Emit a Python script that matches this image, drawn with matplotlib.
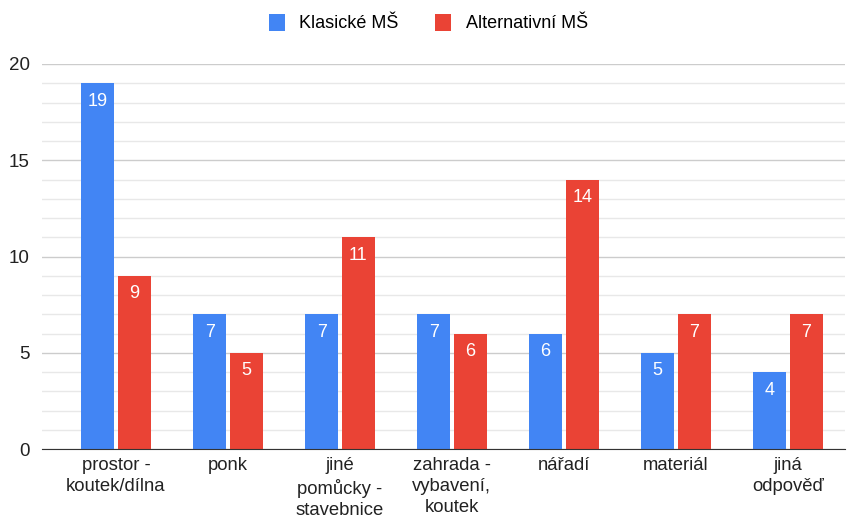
import matplotlib
matplotlib.use("Agg")
from matplotlib import pyplot as plt
from matplotlib.patches import Patch
import numpy as np

plt.rcParams['font.family'] = ['Liberation Sans', 'DejaVu Sans']

# data
kategorie = ["prostor -\nkoutek/dílna", "ponk", "jiné\npomůcky -\nstavebnice",
             "zahrada -\nvybavení,\nkoutek", "nářadí", "materiál", "jiná\nodpověď"]
klasicke = [19, 7, 7, 7, 6, 5, 4]
alternativni = [9, 5, 11, 6, 14, 7, 7]

modra = "#4285F4"
cervena = "#EA4335"

fig = plt.figure(figsize=(8.48, 5.2), dpi=100)
ax = fig.add_axes([42 / 848, 1 - 449 / 520, 803 / 848, 385 / 520])

x = np.arange(len(kategorie))
w = 0.295
b1 = ax.bar(x - 0.163, klasicke, w, color=modra, zorder=3)
b2 = ax.bar(x + 0.163, alternativni, w, color=cervena, zorder=3)

# popisky hodnot uvnitr sloupcu
for bars in (b1, b2):
    for r in bars:
        ax.annotate(str(int(r.get_height())), (r.get_x() + r.get_width() / 2, r.get_height()),
                    xytext=(0, -13), textcoords="offset points", ha="center", va="center",
                    color="white", fontsize=13, zorder=4)

ax.set_xlim(-0.66, 6.51)
ax.set_ylim(0, 20)
ax.set_yticks([0, 5, 10, 15, 20])
ax.set_yticks(np.arange(0, 21, 1), minor=True)
ax.grid(axis="y", which="major", color="#cccccc", lw=1, zorder=0)
ax.grid(axis="y", which="minor", color="#e8e8e8", lw=1, zorder=0)
ax.set_xticks(x)
ax.set_xticklabels(kategorie, fontsize=13.3, linespacing=1.3, color="#222222")
ax.tick_params(axis="both", which="both", length=0)
ax.tick_params(axis="y", labelsize=13.5, pad=9, labelcolor="#222222")
ax.tick_params(axis="x", pad=6)

for s in ["top", "right", "left"]:
    ax.spines[s].set_visible(False)
ax.spines["bottom"].set_color("#333333")
ax.spines["bottom"].set_zorder(5)

handles = [Patch(facecolor=modra, label="Klasické MŠ"), Patch(facecolor=cervena, label="Alternativní MŠ")]
fig.legend(handles=handles, loc="center", bbox_to_anchor=(0.505, 1 - 23 / 520), ncol=2,
           frameon=False, fontsize=13, handlelength=0.9, handleheight=1.1,
           handletextpad=0.8, columnspacing=2.0)

fig.savefig("out.png", dpi=100)
